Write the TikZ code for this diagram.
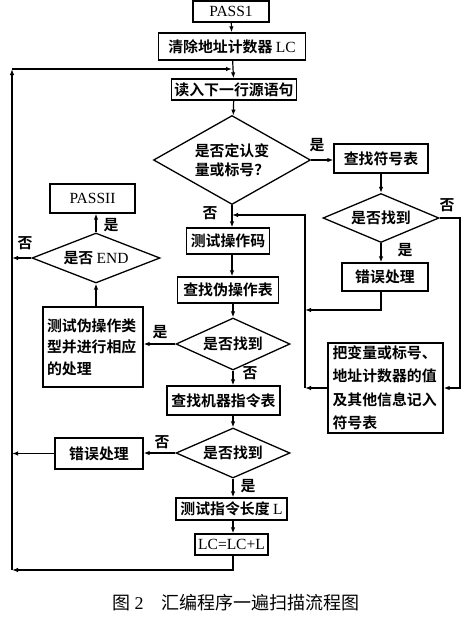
\documentclass[tikz,border=0pt]{standalone}
\usepackage{fontspec}
\setmainfont{Liberation Serif}
\IfFontExistsTF{Noto Sans CJK SC Bold}
  {\newfontfamily\cjkb{Noto Sans CJK SC Bold}[Scale=0.96]}
  {\newfontfamily\cjkb{Noto Sans CJK SC}[Scale=0.96]}
\newfontfamily\cjk{Noto Sans CJK SC}
\newcommand{\lat}[1]{{\rmfamily #1}}
\usepackage{tikz}
\usetikzlibrary{arrows.meta}
\usetikzlibrary{shapes.geometric}
\tikzset{>={Latex[length=6pt,width=4.5pt]}}
\tikzstyle{box} = [draw, line width=1.3pt, inner sep=2pt,
    font=\fontsize{15.5}{18}\selectfont\cjkb]
\tikzstyle{test} = [draw, diamond, line width=1.3pt, inner sep=0pt,
    font=\fontsize{15.5}{19}\selectfont\cjkb, align=center]
\tikzstyle{yn} = [inner sep=0pt, font=\fontsize{15.5}{18}\selectfont\cjkb]

\begin{document}
\begin{tikzpicture}[x=1pt,y=-1pt,line width=1.2pt]
    \useasboundingbox (0,0) rectangle (468,618);
    %main column
    \node[box, minimum width=76pt, minimum height=21pt] (pass1) at (231,11.5) {\lat{PASS1}};
    \node[box, minimum width=147pt, minimum height=27pt] (clear) at (232,46.5) {清除地址计数器 \lat{LC}};
    \node[box, minimum width=125pt, minimum height=21pt] (read) at (234,89.5) {读入下一行源语句};
    \node[test, aspect=1.76, minimum width=157pt, minimum height=89pt] (q1) at (232,160) {是否定认变\\量或标号？};
    \node[box, minimum width=83pt, minimum height=26pt] (opcode) at (228,241) {测试操作码};
    \node[box, minimum width=101pt, minimum height=26pt] (pseudo) at (228,290) {查找伪操作表};
    \node[test, aspect=2.2, minimum width=114pt, minimum height=52pt] (q3) at (233,344) {是否找到};
    \node[box, minimum width=113pt, minimum height=29pt] (mach) at (223.5,400.5) {查找机器指令表};
    \node[test, aspect=2.28, minimum width=114pt, minimum height=50pt] (q4) at (233,453) {是否找到};
    \node[box, minimum width=111pt, minimum height=22pt] (len) at (231.5,509) {测试指令长度 \lat{L}};
    \node[box, minimum width=73pt, minimum height=21pt] (lc) at (231.5,544.5) {\lat{LC=LC+L}};
    %right column
    \node[box, minimum width=94pt, minimum height=29pt] (symtab) at (381,158.5) {查找符号表};
    \node[test, aspect=2.37, minimum width=116pt, minimum height=49pt] (q2) at (381,218) {是否找到};
    \node[box, minimum width=86pt, minimum height=28pt] (err1) at (385,277) {错误处理};
    \node[box, minimum width=115pt, minimum height=90pt, text width=106pt, align=left,
        font=\fontsize{15.5}{23.5}\selectfont\cjkb] (record) at (385.5,388)
        {把变量或标号、\\地址计数器的值\\及其他信息记入\\符号表};
    %left column
    \node[box, minimum width=85pt, minimum height=29pt] (pass2) at (92.5,198.5) {\lat{PASSII}};
    \node[test, aspect=2.56, minimum width=128pt, minimum height=50pt] (qend) at (96,258) {是否 \lat{END}};
    \node[box, minimum width=100pt, minimum height=80pt, text width=92pt, align=left,
        font=\fontsize{15.5}{21.5}\selectfont\cjkb] (proc) at (93,347)
        {测试伪操作类\\型并进行相应\\的处理};
    \node[box, minimum width=88pt, minimum height=31pt] (err2) at (99,453.5) {错误处理};
    %yes and no
    \node[yn] (y1) at (317,145) {是};
    \node[yn] (n1) at (210,213) {否};
    \node[yn] (n2) at (447,205) {否};
    \node[yn] (y2) at (405,250) {是};
    \node[yn] (y3) at (160,332) {是};
    \node[yn] (n3) at (250,373) {否};
    \node[yn] (y4) at (111,225) {是};
    \node[yn] (n4) at (25,243) {否};
    \node[yn] (n5) at (162,442) {否};
    \node[yn] (y5) at (248,486) {是};
    %corners
    \coordinate (tl) at (12,69);
    \coordinate (bl) at (12,570);
    \coordinate (j1) at (305,310);
    \coordinate (rtop) at (305,215);
    \coordinate (rr) at (460,218);
    %lines
    \draw[->] (pass1) -- (clear);
    \draw[->] (clear) -- (read);
    \draw[->] (read) -- (q1);
    \draw[->] (q1.east) -- (q1.east -| symtab.west);
    \draw[->] (symtab) -- (q2);
    \draw[->] (q2.south) -- (q2.south |- err1.north);
    \draw[->] (q2.south |- err1.south) |- (j1);
    \draw[->] (q2.east) -- (rr) |- (record.east);
    \draw[->] (record.west) -- (record.west -| j1);
    \draw[->] (record.west -| j1) -- (rtop) -- (rtop -| q1.south);
    \draw[->] (q1.south) -- (q1.south |- opcode.north);
    \draw[->] (opcode.south -| q1.south) -- (q1.south |- pseudo.north);
    \draw[->] (pseudo.south -| q3.north) -- (q3.north);
    \draw[->] (q3.west) -- (q3.west -| proc.east);
    \draw[->] (qend.south |- proc.north) -- (qend.south);
    \draw[->] (qend.north) -- (qend.north |- pass2.south);
    \draw[->] (qend.west) -- (qend.west -| tl);
    \draw[->] (q3.south) -- (q3.south |- mach.north);
    \draw[->] (q3.south |- mach.south) -- (q4.north);
    \draw[->] (q4.west) -- (q4.west -| err2.east);
    \draw[->] (err2.west) -- (err2.west -| tl);
    \draw[->] (q4.south) -- (q4.south |- len.north);
    \draw[->] (q4.south |- len.south) -- (q4.south |- lc.north);
    \draw[->] (q4.south |- lc.south) |- (bl);
    \draw[->] (bl) -- (tl);
    \draw[->] (tl) -- (tl -| q1.north);
    %caption
    \node[font=\fontsize{18}{20}\selectfont\cjk] (cap) at (236,603)
        {图~\lat{2}\hspace{1em}汇编程序一遍扫描流程图};
\end{tikzpicture}
\end{document}
